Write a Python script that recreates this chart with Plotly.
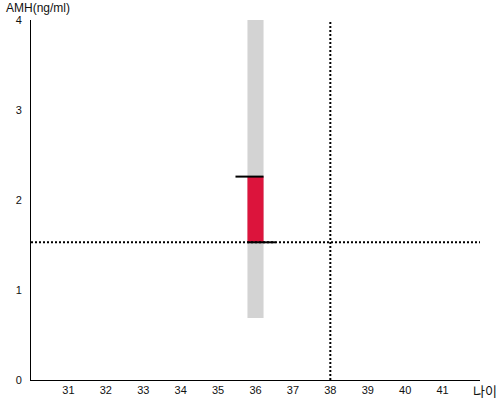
import plotly.graph_objects as go

# Data
age_point = [36]
amh_range_low = [0.69]
amh_range_high = [4.0]
amh_bar_low = [1.53]
amh_bar_high = [2.26]
ref_age = 38
ref_amh = 1.53
x_ticks = [31, 32, 33, 34, 35, 36, 37, 38, 39, 40, 41]
y_ticks = [0, 1, 2, 3, 4]
x_range = [30, 42]
y_range = [0, 4]
bar_width = 0.43
cap_len = 0.75

fig = go.Figure()

# grey range bar
fig.add_trace(go.Bar(
    x=age_point, y=[h - l for h, l in zip(amh_range_high, amh_range_low)],
    base=amh_range_low, width=bar_width, marker=dict(color="#d3d3d3", line=dict(width=0)),
    hoverinfo="skip", showlegend=False))
# red bar
fig.add_trace(go.Bar(
    x=age_point, y=[h - l for h, l in zip(amh_bar_high, amh_bar_low)],
    base=amh_bar_low, width=bar_width, marker=dict(color="#dc143c", line=dict(width=0)),
    hoverinfo="skip", showlegend=False))

# reference dotted lines
fig.add_trace(go.Scatter(x=x_range, y=[ref_amh, ref_amh], mode="lines",
                         line=dict(color="black", width=2, dash="2px,2px"),
                         hoverinfo="skip", showlegend=False))
fig.add_trace(go.Scatter(x=[ref_age, ref_age], y=y_range, mode="lines",
                         line=dict(color="black", width=2, dash="2px,2px"),
                         hoverinfo="skip", showlegend=False))

# caps
a = age_point[0]
fig.add_trace(go.Scatter(x=[a + bar_width / 2 - cap_len, a + bar_width / 2], y=[amh_bar_high[0]] * 2,
                         mode="lines", line=dict(color="black", width=2),
                         hoverinfo="skip", showlegend=False))
fig.add_trace(go.Scatter(x=[a - bar_width / 2, a - bar_width / 2 + cap_len], y=[amh_bar_low[0]] * 2,
                         mode="lines", line=dict(color="black", width=2),
                         hoverinfo="skip", showlegend=False))

fig.update_layout(
    width=500, height=400,
    margin=dict(l=31, r=20, t=20, b=20, autoexpand=False),
    plot_bgcolor="white", paper_bgcolor="white",
    font=dict(family="Liberation Sans, Arial, sans-serif", size=11, color="#111"),
    barmode="overlay",
    xaxis=dict(range=x_range, tickvals=x_ticks, ticktext=[str(v) for v in x_ticks],
               showgrid=False, zeroline=False, showline=True, linecolor="black", linewidth=1,
               ticks="", automargin=False),
    yaxis=dict(range=y_range, tickvals=y_ticks, showgrid=False, zeroline=False,
               showline=True, linecolor="black", linewidth=1, ticks="", ticklabelstandoff=6,
               automargin=False),
    annotations=[
        dict(text="AMH(ng/ml)", xref="paper", yref="paper", x=0, y=1, xanchor="left",
             yanchor="bottom", showarrow=False, font=dict(size=12), xshift=-27, yshift=3),
        dict(text="나이", xref="paper", yref="paper", x=1, y=0, xanchor="left",
             yanchor="top", showarrow=False, font=dict(size=13, family="Noto Sans CJK KR"),
             xshift=-9, yshift=1),
    ],
)

fig.write_html("out.html", config={"displayModeBar": False},
               post_script="document.body.style.margin='0';")
